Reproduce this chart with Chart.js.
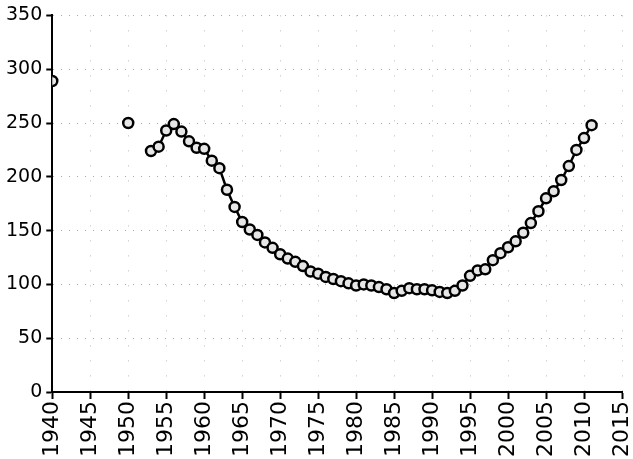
<!DOCTYPE html>
<html>
<head>
<meta charset="utf-8">
<script src="https://cdn.jsdelivr.net/npm/chart.js@4"></script>
<style>
  html, body { margin: 0; padding: 0; background: #fff; }
  #wrap { width: 633px; height: 459px; }
</style>
</head>
<body>
<div id="wrap"><canvas id="grafico" width="633" height="459"></canvas></div>
<script>
// anos com dados (1941-1949 e 1951-1952 sem registro)
const anos = [1940, 1950,
    1953, 1954, 1955, 1956, 1957, 1958, 1959, 1960, 1961, 1962, 1963, 1964,
    1965, 1966, 1967, 1968, 1969, 1970, 1971, 1972, 1973, 1974, 1975, 1976,
    1977, 1978, 1979, 1980, 1981, 1982, 1983, 1984, 1985, 1986, 1987, 1988,
    1989, 1990, 1991, 1992, 1993, 1994, 1995, 1996, 1997, 1998, 1999, 2000,
    2001, 2002, 2003, 2004, 2005, 2006, 2007, 2008, 2009, 2010, 2011];
const valores = [289, 250,
    224, 228, 243, 249, 242, 233, 227, 226, 215, 208, 188, 172,
    158, 151, 146, 139, 134, 128, 124, 121, 117, 112, 110, 107,
    105, 103, 101, 99, 100, 99, 97.5, 95.5, 92, 94, 96.5, 95.5,
    95.5, 94.5, 93, 92, 94, 99, 108, 113, 114, 122.5, 129, 134.5,
    140, 148, 157, 168, 180, 186.5, 197, 210, 225, 236, 248];
const limitesY = { min: 0, max: 350, passo: 50 };
const limitesX = { min: 1940, max: 2015, passo: 5 };

const pontos = anos.map((a, i) => ({ x: a, y: valores[i] }));

new Chart(document.getElementById('grafico'), {
    type: 'line',
    data: {
        datasets: [{
            data: pontos,
            borderColor: '#000',
            borderWidth: 2.5,
            pointRadius: 5,
            pointBorderWidth: 2.5,
            pointBorderColor: '#000',
            pointBackgroundColor: '#e6e6e6',
            tension: 0,
            // sem linha entre anos nao consecutivos
            segment: {
                borderColor: ctx => (ctx.p1.parsed.x - ctx.p0.parsed.x > 1 ? 'transparent' : '#000')
            }
        }]
    },
    options: {
        responsive: false,
        animation: false,
        layout: { padding: { top: 0, right: 0, left: 2, bottom: 0 } },
        plugins: { legend: { display: false }, tooltip: { enabled: false } },
        scales: {
            x: {
                type: 'linear',
                min: limitesX.min,
                max: limitesX.max,
                afterFit: s => { s.paddingRight = 11; },
                border: { color: '#000', width: 2, dash: [1, 14] },
                grid: {
                    color: '#bbb',
                    tickColor: '#000',
                    tickBorderDash: [],
                    tickWidth: 2,
                    tickLength: 7
                },
                ticks: {
                    stepSize: limitesX.passo,
                    color: '#000',
                    font: { family: 'DejaVu Sans', size: 22 },
                    minRotation: 90,
                    maxRotation: 90,
                    padding: 2,
                    callback: v => String(v)
                }
            },
            y: {
                min: limitesY.min,
                max: limitesY.max,
                border: { color: '#000', width: 2, dash: [1, 7] },
                grid: {
                    color: '#aaa',
                    tickColor: '#000',
                    tickBorderDash: [],
                    tickWidth: 2,
                    tickLength: 6
                },
                ticks: {
                    stepSize: limitesY.passo,
                    color: '#000',
                    font: { family: 'DejaVu Sans', size: 19 },
                    padding: 4
                }
            }
        }
    }
});
</script>
</body>
</html>
